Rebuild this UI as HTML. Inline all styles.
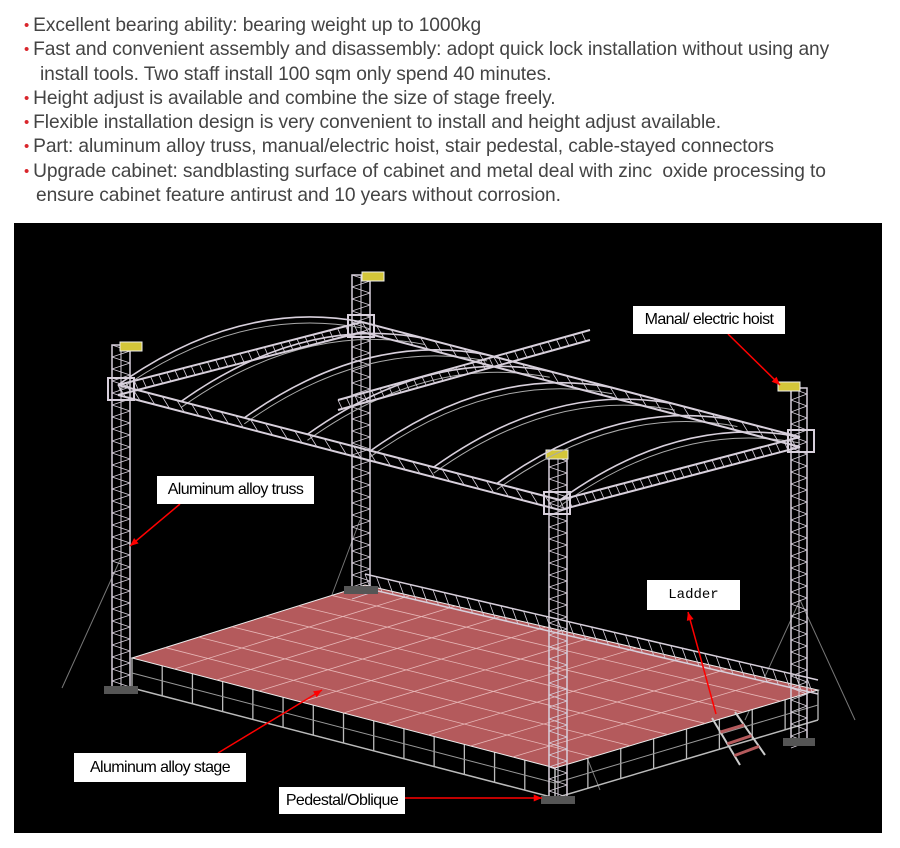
<!DOCTYPE html>
<html><head><meta charset="utf-8">
<style>
html,body{margin:0;padding:0;background:#fff;width:900px;height:848px;overflow:hidden;font-family:"Liberation Sans",sans-serif;}
.txt{position:absolute;left:24px;top:14px;font-size:19.2px;line-height:24.3px;color:#444;letter-spacing:-0.1px}
.txt div{white-space:nowrap}
.b{color:#d9262c;font-size:15px;margin-right:4px;vertical-align:1px}
.ind{padding-left:16px}
#panel{position:absolute;left:14px;top:223px;width:868px;height:610px;background:#000;}
.lbl{position:absolute;background:#fff;color:#000;font-size:16px;font-family:"Liberation Sans",sans-serif;letter-spacing:-0.6px;text-align:center;box-sizing:border-box;}
</style></head><body>
<div class="txt">
<div><span class="b">•</span>Excellent bearing ability: bearing weight up to 1000kg</div>
<div><span class="b">•</span>Fast and convenient assembly and disassembly: adopt quick lock installation without using any</div>
<div class="ind">install tools. Two staff install 100 sqm only spend 40 minutes.</div>
<div><span class="b">•</span>Height adjust is available and combine the size of stage freely.</div>
<div><span class="b">•</span>Flexible installation design is very convenient to install and height adjust available.</div>
<div><span class="b">•</span>Part: aluminum alloy truss, manual/electric hoist, stair pedestal, cable-stayed connectors</div>
<div><span class="b">•</span>Upgrade cabinet: sandblasting surface of cabinet and metal deal with zinc&nbsp; oxide processing to</div>
<div class="ind" style="padding-left:12px">ensure cabinet feature antirust and 10 years without corrosion.</div>
</div>
<div id="panel"></div>
<svg id="s" width="900" height="848" style="position:absolute;left:0;top:0" xmlns="http://www.w3.org/2000/svg">
<defs><clipPath id="c"><rect x="14" y="223" width="868" height="610"/></clipPath></defs>
<g id="g" clip-path="url(#c)"></g>
</svg>
<div class="lbl" style="left:633px;top:306px;width:152px;height:28px;line-height:28px;">Manal/ electric hoist</div>
<div class="lbl" style="left:157px;top:476px;width:157px;height:28px;line-height:28px;">Aluminum alloy truss</div>
<div class="lbl" style="left:647px;top:580px;width:93px;height:30px;line-height:30px;font-family:'Liberation Mono',monospace;font-size:14px;letter-spacing:0">Ladder</div>
<div class="lbl" style="left:74px;top:753px;width:172px;height:29px;line-height:29px;">Aluminum alloy stage</div>
<div class="lbl" style="left:279px;top:787px;width:126px;height:27px;line-height:27px;">Pedestal/Oblique</div>
<script>
var g=document.getElementById('g'),NS='http://www.w3.org/2000/svg';
function el(t,a){var e=document.createElementNS(NS,t);for(var k in a)e.setAttribute(k,a[k]);g.appendChild(e);return e;}
function L(x1,y1,x2,y2,c,w){el('line',{x1:x1,y1:y1,x2:x2,y2:y2,stroke:c||'#ddd',"stroke-width":w||1.2});}
var C='#d8d0dc';
[[120,560,62,688],[800,600,745,720],[800,600,855,720],[560,690,600,790],[360,520,330,600]].forEach(function(a){L(a[0],a[1],a[2],a[3],'#777',1);});
var SL=[132,658],SB=[365,585],SR=[818,690],SF=[555,768];
function lerp(a,b,t){return [a[0]+(b[0]-a[0])*t,a[1]+(b[1]-a[1])*t];}
for(var i=0;i<=14;i++){var p=lerp(SL,SF,i/14);L(p[0],p[1],p[0],p[1]+30,'#bbb',1.3);}
for(var i=0;i<=8;i++){var p=lerp(SF,SR,i/8);L(p[0],p[1],p[0],p[1]+30,'#bbb',1.3);}
L(SL[0],SL[1]+30,SF[0],SF[1]+30,'#bbb',1.5);L(SF[0],SF[1]+30,SR[0],SR[1]+30,'#bbb',1.5);
L(SL[0],SL[1]+15,SF[0],SF[1]+15,'#999',1);L(SF[0],SF[1]+15,SR[0],SR[1]+15,'#999',1);
el('polygon',{points:[SL,SB,SR,SF].map(function(p){return p.join(',')}).join(' '),fill:'#b45a5c',stroke:'#eee',"stroke-width":1});
for(var i=1;i<10;i++){var a=lerp(SL,SF,i/10),b=lerp(SB,SR,i/10);L(a[0],a[1],b[0],b[1],'#e8b8b8',0.8);}
for(var i=1;i<7;i++){var a=lerp(SL,SB,i/7),b=lerp(SF,SR,i/7);L(a[0],a[1],b[0],b[1],'#e8b8b8',0.8);}
L(365,574,818,680,C,1.5);L(365,588,818,694,C,1.5);
for(var i=0;i<40;i++){var p=lerp([365,574],[818,680],i/40),q=lerp([365,574],[818,680],(i+0.5)/40);L(p[0],p[1],q[0],q[1]+14,C,0.8);}
L(712,718,740,765,'#ccc',2);L(735,712,765,755,'#ccc',2);
[0.3,0.55,0.8].forEach(function(t){var a=lerp([712,718],[740,765],t),b=lerp([735,712],[765,755],t);L(a[0],a[1],b[0],b[1],'#b45a5c',3);});
function tower(x,y1,y2,w){el('rect',{x:x,y:y1,width:w,height:y2-y1,fill:'none',stroke:C,"stroke-width":1.5});
 L(x+w/2,y1,x+w/2,y2,C,1);for(var y=y1;y<y2;y+=12){L(x,y,x+w,y+6,C,0.8);L(x+w,y+6,x,y+12,C,0.8);}
 el('rect',{x:x-8,y:y2-4,width:w+16,height:8,fill:'#555'});}
tower(112,345,690,18);tower(352,275,590,18);tower(549,455,800,18);tower(791,388,742,16);
[[120,342],[362,272],[546,450],[778,382]].forEach(function(p){el('rect',{x:p[0],y:p[1],width:22,height:9,fill:'#d4c63a',stroke:'#eee'});});
function beam(a,b){L(a[0],a[1],b[0],b[1],C,2);L(a[0],a[1]+10,b[0],b[1]+10,C,2);
 for(var i=0;i<30;i++){var p=lerp(a,b,i/30),q=lerp(a,b,(i+0.5)/30);L(p[0],p[1],q[0],q[1]+10,C,0.8);}}
var RL=[118,385],RB=[362,322],RR=[800,437],RF=[560,500];
for(var i=0;i<=7;i++){var a=lerp(RL,RF,i/7),b=lerp(RB,RR,i/7);var mx=(a[0]+b[0])/2,my=(a[1]+b[1])/2-55;
 el('path',{d:'M'+a[0]+','+a[1]+' Q'+mx+','+my+' '+b[0]+','+b[1],fill:'none',stroke:C,"stroke-width":1.6});
 el('path',{d:'M'+a[0]+','+(a[1]+6)+' Q'+mx+','+(my+6)+' '+b[0]+','+(b[1]+6),fill:'none',stroke:'#aaa',"stroke-width":1});}
beam(RL,RB);beam(RB,RR);beam(RL,RF);beam(RF,RR);
beam([338,400],[590,330]);
[[112,378],[352,315],[548,492],[792,430]].forEach(function(p){el('rect',{x:p[0]-4,y:p[1],width:26,height:22,fill:'none',stroke:C,"stroke-width":2});});
function arr(x1,y1,x2,y2){L(x1,y1,x2,y2,'#f00',1.5);var ang=Math.atan2(y2-y1,x2-x1),s=9;
 el('polygon',{points:[x2,y2,x2-s*Math.cos(ang-0.4),y2-s*Math.sin(ang-0.4),x2-s*Math.cos(ang+0.4),y2-s*Math.sin(ang+0.4)].join(','),fill:'#f00'});}
arr(728,334,780,385);arr(180,504,130,546);arr(716,714,688,612);arr(218,753,322,690);arr(405,798,542,798);
</script>
</body></html>
